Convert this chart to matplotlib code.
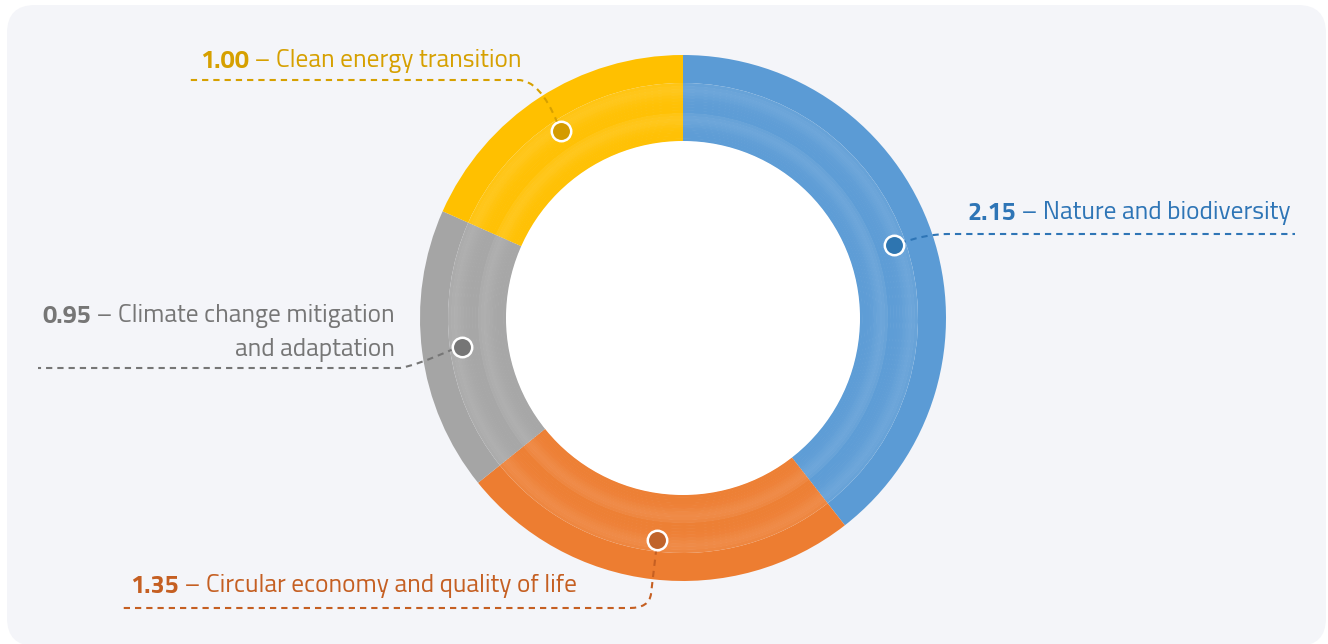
import numpy as np
import matplotlib
matplotlib.use("Agg")
import matplotlib.pyplot as plt
from matplotlib.patches import FancyBboxPatch, PathPatch
from matplotlib.path import Path
from matplotlib.colors import to_rgb

# data
labels = ["Nature and biodiversity", "Circular economy and quality of life",
          "Climate change mitigation\nand adaptation", "Clean energy transition"]
values = [2.15, 1.35, 0.95, 1.00]
ring_colors = ["#5b9bd5", "#ed7d31", "#a5a5a5", "#ffc000"]
text_colors = ["#2e75b6", "#c55f22", "#767676", "#d6a000"]
dot_colors = ["#2e75b0", "#c0632a", "#767676", "#d49b00"]

W, H = 1328, 644
FONT = ["Titillium Web", "Encode Sans Semi Condensed", "Lato", "DejaVu Sans"]


def Y(y):
    # image row -> data y
    return H - y


cx, cy = 683, Y(318)
r_out, r_b1, r_b2, r_in = 263, 235, 205, 177
r_dot = 223

fig = plt.figure(figsize=(W / 100, H / 100), dpi=100)
fig.patch.set_facecolor("white")
ax = fig.add_axes([0, 0, 1, 1])

bg = FancyBboxPatch((7, Y(646)), 1319, 641, boxstyle="round,pad=0,rounding_size=28",
                    fc="#f4f5f9", ec="none", zorder=0)
ax.add_patch(bg)


def mix(c, t):
    r, g, b = to_rgb(c)
    return (r + (1 - r) * t, g + (1 - g) * t, b + (1 - b) * t)


# outer band: flat colour
ax.pie(values, colors=ring_colors, startangle=90, counterclock=False,
       radius=r_out, center=(cx, cy),
       wedgeprops=dict(width=r_out - r_b1, linewidth=0), frame=True)

# two inner bands with a soft light stripe near their outer edge
for top, bot in [(r_b1, r_b2), (r_b2, r_in)]:
    n = 10
    edges = np.linspace(top, bot, n + 1)
    for i in range(n):
        t = i / (n - 1)
        light = 0.09 * np.exp(-((t - 0.2) / 0.3) ** 2) + 0.02
        ax.pie(values, colors=[mix(c, light) for c in ring_colors],
               startangle=90, counterclock=False, radius=edges[i],
               center=(cx, cy),
               wedgeprops=dict(width=edges[i] - edges[i + 1] + 0.6, linewidth=0),
               frame=True)

# dots at slice mid-angles
total = sum(values)
cum = np.cumsum([0] + values[:-1])
mid = np.deg2rad(90 - (cum + np.array(values) / 2) / total * 360)
dx = cx + r_dot * np.cos(mid)
dy = cy + r_dot * np.sin(mid)
for i in range(len(values)):
    ax.plot(dx[i], dy[i], "o", ms=14, mfc=dot_colors[i], mec="white", mew=1.8, zorder=6)

dash = (0, (3, 2.4))


def leader(verts, codes, color):
    p = PathPatch(Path(verts, codes), fc="none", ec=color, lw=1.5,
                  linestyle=dash, zorder=5, capstyle="butt")
    ax.add_patch(p)


M, L, C = Path.MOVETO, Path.LINETO, Path.CURVE3

# blue: Nature and biodiversity
leader([(dx[0] + 6, dy[0] + 2), (925, Y(234)), (948, Y(234)), (1295, Y(234))],
       [M, C, C, L], text_colors[0])
# orange: Circular economy
leader([(dx[1] - 1, dy[1] - 9), (651, Y(594)), (649, Y(608)), (630, Y(608)), (122, Y(608))],
       [M, L, C, C, L], text_colors[1])
# gray: Climate change
leader([(dx[2] - 8, dy[2] - 2), (415, Y(366)), (400, Y(368)), (38, Y(368))],
       [M, C, C, L], text_colors[2])
# yellow: Clean energy
leader([(dx[3] - 4, dy[3] + 8), (540, Y(80)), (518, Y(80)), (190, Y(80))],
       [M, C, C, L], text_colors[3])

fs = 18.2


def label_left(x, y, num, txt, color):
    t = ax.text(x, y, num, fontsize=fs, fontweight="bold", color=color,
                family=FONT, ha="left", va="baseline", zorder=7)
    ax.annotate(" \u2013 " + txt, xy=(1, 0), xycoords=t, fontsize=fs, color=color,
                family=FONT, ha="left", va="bottom", zorder=7)


label_left(967, Y(220), f"{values[0]:.2f}", labels[0], text_colors[0])
label_left(130, Y(593), f"{values[1]:.2f}", labels[1], text_colors[1])
label_left(200, Y(68), f"{values[3]:.2f}", labels[3], text_colors[3])

# gray label is right aligned on two lines
line1, line2 = labels[2].split("\n")
t = ax.text(395, Y(322), " \u2013 " + line1, fontsize=fs, color=text_colors[2],
            family=FONT, ha="right", va="baseline", zorder=7)
ax.annotate(f"{values[2]:.2f}", xy=(0, 0), xycoords=t, fontsize=fs, fontweight="bold",
            color=text_colors[2], family=FONT, ha="right", va="bottom", zorder=7)
ax.text(395, Y(356), line2, fontsize=fs, color=text_colors[2],
        family=FONT, ha="right", va="baseline", zorder=7)

# white hole
ax.add_patch(plt.Circle((cx, cy), r_in, fc="white", ec="none", zorder=4))

ax.set_xlim(0, W)
ax.set_ylim(0, H)
ax.set_aspect("equal")
ax.axis("off")

fig.savefig("out.png", dpi=100, facecolor="white")
